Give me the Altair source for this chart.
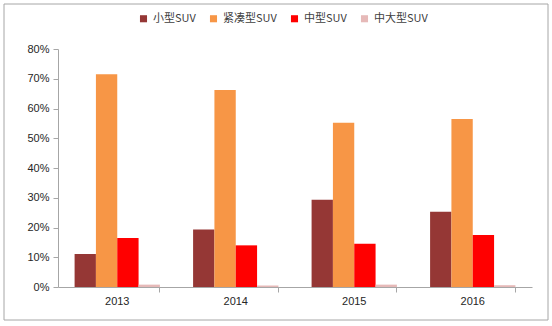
import altair as alt
import pandas as pd

years = ["2013", "2014", "2015", "2016"]
series = ["小型SUV", "紧凑型SUV", "中型SUV", "中大型SUV"]
small = [0.111, 0.193, 0.293, 0.253]
compact = [0.715, 0.662, 0.552, 0.565]
mid = [0.165, 0.140, 0.145, 0.175]
large = [0.008, 0.005, 0.008, 0.006]
colors = ["#953735", "#F79646", "#FF0000", "#E6B9B8"]

rows = []
for vals, s in zip([small, compact, mid, large], series):
    for y, v in zip(years, vals):
        rows.append({"year": y, "series": s, "value": v})
df = pd.DataFrame(rows)

xscale = alt.Scale(paddingInner=0.28, paddingOuter=0.14)
yaxis = alt.Axis(format=".0%", values=[0, .1, .2, .3, .4, .5, .6, .7, .8],
                 labelOverlap=False, grid=False, domainColor="#A6A6A6",
                 tickColor="#A6A6A6", tickSize=5, labelFont="Liberation Sans",
                 labelFontSize=11, labelColor="#262626", labelPadding=4)

bars = alt.Chart(df).mark_bar().encode(
    x=alt.X("year:N", sort=years, title=None, scale=xscale,
            axis=alt.Axis(orient="bottom", labelAngle=0, ticks=False, domainColor="#A6A6A6",
                          labelFont="Liberation Sans", labelFontSize=11,
                          labelColor="#262626", labelPadding=8)),
    xOffset=alt.XOffset("series:N", sort=series),
    y=alt.Y("value:Q", title=None, scale=alt.Scale(domain=[0, 0.8]), axis=yaxis),
    color=alt.Color("series:N", sort=series,
                    scale=alt.Scale(domain=series, range=colors),
                    legend=alt.Legend(title=None, orient="none", direction="horizontal",
                                      legendX=80, legendY=-36, symbolType="square",
                                      symbolSize=50, symbolStrokeWidth=0,
                                      labelFont="Noto Sans CJK SC", labelFontSize=11,
                                      labelColor="#404040", columnPadding=12)),
)

ticks = alt.Chart(pd.DataFrame({"year": years})).mark_bar(opacity=0).encode(
    x=alt.X("year:N", sort=years, title=None, scale=xscale,
            axis=alt.Axis(orient="bottom", labels=False, domain=False, ticks=True,
                          bandPosition=1, tickColor="#A6A6A6", tickSize=5)),
)

border = alt.Chart(pd.DataFrame({"a": [0]})).mark_rect(
    fill=None, stroke="#A6A6A6", strokeWidth=1
).encode(
    x=alt.value(-54), x2=alt.value(490), y=alt.value(-45), y2=alt.value(271)
)

chart = alt.layer(border, bars, ticks).resolve_axis(x="independent").properties(
    width=474, height=238,
    autosize=alt.AutoSizeParams(type="none"),
    padding={"left": 58, "top": 49, "right": 20, "bottom": 39},
).configure_view(stroke=None)

chart.save("out.html", embed_options={"renderer": "svg", "actions": False})
